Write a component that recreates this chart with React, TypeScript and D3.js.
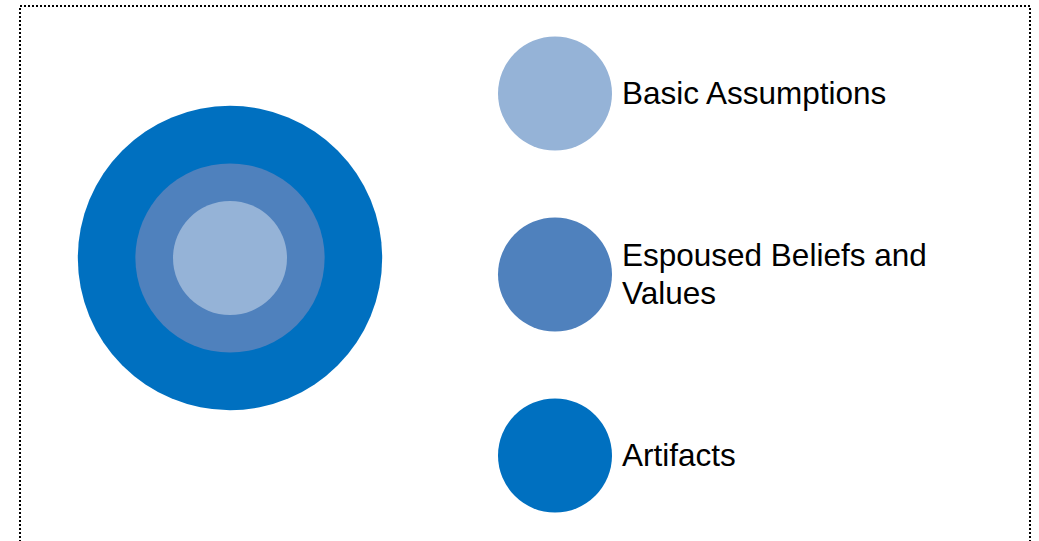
import React from 'react';
import * as d3 from 'd3';

// layers from the core outwards
const layers = ['Basic Assumptions', 'Espoused Beliefs and Values', 'Artifacts'];
const labelLines = [['Basic Assumptions'], ['Espoused Beliefs and', 'Values'], ['Artifacts']];
const layerDepth = [1, 1.66, 2.67];
const layerColors = ['#95B3D7', '#4F81BD', '#0070C0'];

const width = 1039;
const height = 541;

const App: React.FC = () => {
  const radius = d3.scaleLinear().domain([0, 1]).range([0, 57]);
  const legendY = d3.scalePoint<string>().domain(layers).range([93.5, 455.5]);
  const color = d3.scaleOrdinal<string, string>().domain(layers).range(layerColors);

  const cx = 230;
  const cy = 258;
  const lineHeight = 38;

  const outerFirst = layers.map((d, i) => ({ name: d, depth: layerDepth[i] })).reverse();

  return (
    <svg
      width={width}
      height={height}
      style={{ position: 'absolute', left: 0, top: 0 }}
      fontFamily="'Liberation Sans', Arial, sans-serif"
    >
      <rect
        x={20}
        y={6}
        width={1010}
        height={600}
        fill="none"
        stroke="#000"
        strokeWidth={2}
        strokeDasharray="2 2"
      />
      <g>
        {outerFirst.map(d => (
          <circle key={d.name} cx={cx} cy={cy} r={radius(d.depth)} fill={color(d.name)} />
        ))}
      </g>
      <g>
        {layers.map((d, i) => {
          const y = legendY(d) ?? 0;
          const lines = labelLines[i];
          const startY = y + 10 - ((lines.length - 1) * lineHeight) / 2;
          return (
            <g key={d}>
              <circle cx={555} cy={y} r={radius(1)} fill={color(d)} />
              <text x={622} fontSize={31.5} fill="#000">
                {lines.map((l, j) => (
                  <tspan key={j} x={622} y={startY + j * lineHeight}>
                    {l}
                  </tspan>
                ))}
              </text>
            </g>
          );
        })}
      </g>
    </svg>
  );
};

export default App;
